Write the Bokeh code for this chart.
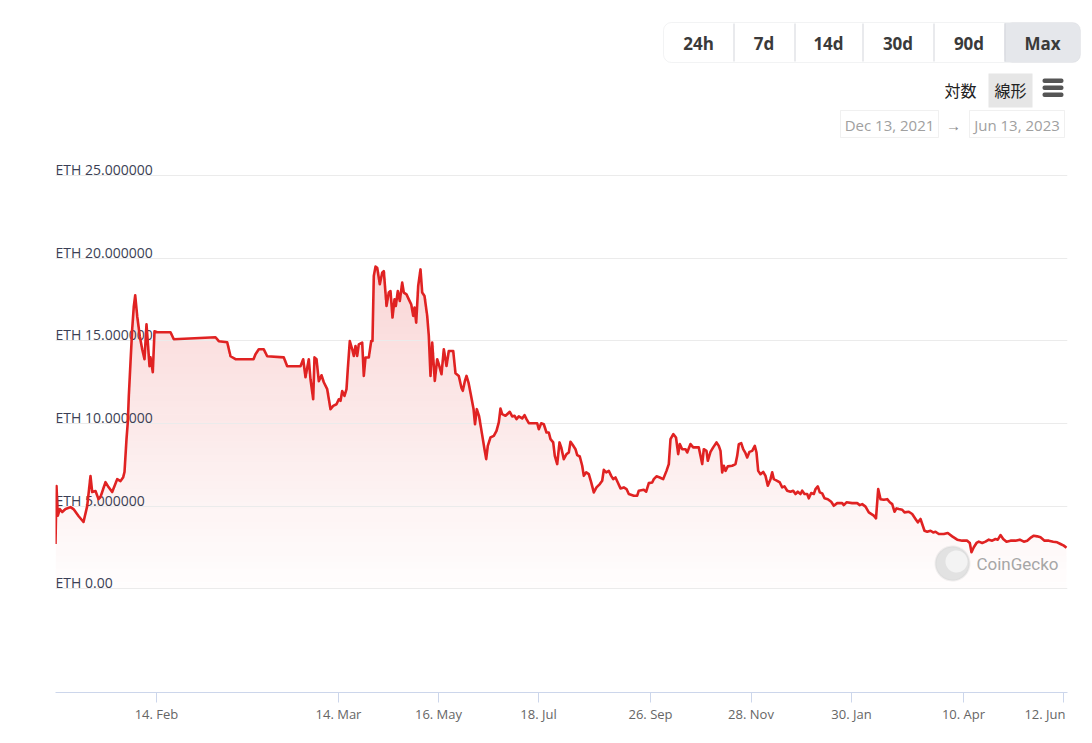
import numpy as np
from bokeh.plotting import figure
from bokeh.layouts import column
from bokeh.models import (Range1d, LinearAxis, FixedTicker, Grid, BoxAnnotation,
                          Label, PolyAnnotation)
from bokeh.core.properties import value
from bokeh.embed import file_html
from bokeh.resources import INLINE

# ordinal sample position along the (ordinal) time axis
idx = [0, 1, 2.3, 4.3, 6.7, 10, 15, 18, 23, 28, 31.7, 35, 36.7, 40, 43, 45, 50, 53, 56.7, 61.7,
       65, 67.7, 69, 71, 72.3, 73.3, 75, 76.7, 78.3, 79.7, 81.7, 84.3, 86.7, 89, 91, 92.3, 94, 95,
       97.3, 99, 101.7, 115, 118.3, 160, 163.3, 171.7, 175, 180, 198, 200, 203.3, 208.3, 211.7,
       228.3, 231.7, 245, 247.7, 250, 253.3, 255, 257.7, 259, 261, 263.3, 266, 268.3, 271.7, 275,
       277.7, 281, 283.3, 285, 286.7, 289, 291, 292.3, 294.3, 296.7, 298.3, 300, 301.7, 303.3,
       306.7, 308.3, 310, 313.3, 315.7, 317, 318.3, 320, 321.7, 324.3, 326.7, 328.3, 331, 333.3,
       335, 337, 339, 340.3, 342.3, 344.3, 346.7, 348.3, 351, 353.3, 355.7, 357.7, 359, 360.7,
       362.7, 365, 366.7, 369, 371.7, 373.3, 375, 376.7, 379.3, 381.7, 383.3, 386, 388.3, 391,
       393.3, 397.7, 400, 403.3, 406, 407.3, 409.5, 411, 413, 415.5, 418, 419.5, 421.3, 423.5,
       426.7, 429, 430.7, 432.3, 435, 438.3, 441, 443.3, 445, 446.7, 450, 454.3, 456.7, 459, 461,
       463.3, 466.7, 469, 471, 473.3, 481.7, 483.3, 485.7, 488.3, 491, 493.3, 495, 497.7, 499.3,
       501.7, 504, 505.7, 508.3, 511, 513.3, 515, 517.3, 520, 521.7, 524.3, 526.7, 528.3, 530.7,
       533.3, 535.7, 538.3, 541, 544.3, 546.7, 548.3, 550.7, 553.3, 555.7, 557.7, 560, 562.3, 565,
       568.3, 571, 573.3, 578.3, 581.7, 583.3, 588.3, 590.7, 593.3, 596.7, 598.3, 601, 604.3,
       607.7, 611, 613.3, 615, 617.8, 620.5, 622.7, 624.3, 626.7, 630, 631.7, 635, 637.7, 643.3,
       645, 646.7, 648.3, 651, 652.3, 655, 657.7, 661, 663.3, 665, 666.7, 668.3, 670, 672.3, 676.7,
       680, 681.7, 683.3, 685.7, 687.7, 690, 691.7, 694, 696.7, 699.3, 701, 702.7, 705, 707.7, 710,
       712.3, 715, 716.7, 718.3, 721.7, 724.3, 726.7, 729, 731.7, 735, 737.7, 740, 742.3, 745,
       746.7, 749, 751.7, 753.3, 755.7, 758.3, 760, 762.3, 764.3, 766.7, 769, 772.3, 775.7, 778.3,
       781.7, 786.7, 788.3, 791, 796.7, 801.7, 804.3, 806.7, 810, 813.3, 818.3, 820.5, 822.7, 825,
       828.3, 831.7, 834.3, 836.7, 839, 841, 843.3, 846.7, 849, 853.3, 856.7, 860, 862.3, 865,
       866.7, 869, 871.7, 875, 877.7, 880, 883.3, 888.3, 892.3, 896.7, 901.7, 906.7, 911.7, 914.3,
       916, 918.3, 921, 923.3, 926.7, 930, 933.3, 936.7, 940, 942.3, 945, 947.7, 951, 955, 960,
       964.3, 968.3, 971.7, 975.7, 978.3, 981.7, 985, 989, 993.3, 997.7, 1001.7, 1005, 1008.3, 1011]

# price in ETH
price = [2.72, 6.22, 4.43, 4.83, 4.65, 4.83, 4.95, 4.83, 4.41, 4.05, 5.01, 6.82, 5.86, 5.92, 5.43,
         5.56, 6.46, 6.16, 5.86, 6.64, 6.52, 6.76, 7.07, 9.06, 10.08, 11.65, 13.7, 15.7, 17.09,
         17.75, 16.49, 15.28, 14.49, 13.89, 16.0, 14.92, 13.47, 14.0, 13.1, 15.58, 15.52, 15.52,
         15.1, 15.22, 14.98, 14.92, 14.07, 13.89, 13.89, 14.19, 14.49, 14.49, 14.07, 14.0, 13.47,
         13.47, 13.89, 12.8, 13.89, 12.68, 11.47, 14.0, 13.89, 12.56, 12.92, 12.5, 12.08, 10.87,
         11.07, 11.17, 11.47, 11.37, 11.97, 11.67, 12.08, 13.29, 14.99, 14.49, 14.09, 14.69, 14.09,
         14.79, 14.9, 12.88, 13.99, 13.99, 14.99, 14.99, 18.92, 19.49, 19.42, 18.42, 19.12, 19.22,
         17.11, 17.92, 18.01, 16.41, 17.51, 17.11, 18.01, 17.41, 18.52, 17.92, 17.81, 17.51, 17.21,
         16.51, 17.01, 16.1, 18.32, 19.32, 17.92, 17.71, 16.51, 15.3, 12.88, 14.9, 12.58, 13.89,
         13.59, 12.98, 14.49, 13.48, 14.39, 14.39, 13.04, 12.88, 12.15, 11.98, 12.6, 12.88, 12.48,
         11.7, 10.9, 9.96, 10.87, 10.47, 9.3, 8.45, 7.85, 8.65, 9.16, 9.26, 9.56, 10.07, 10.91,
         10.57, 10.47, 10.71, 10.43, 10.47, 10.27, 10.43, 10.31, 10.51, 10.27, 10.02, 10.02, 9.66,
         10.02, 9.96, 9.46, 9.46, 9.06, 8.86, 8.05, 7.55, 8.86, 8.56, 7.85, 8.15, 8.25, 8.9, 8.7,
         8.45, 8.09, 8.01, 7.45, 6.84, 7.05, 6.94, 6.44, 5.84, 6.14, 6.34, 6.54, 7.2, 7.05, 7.14,
         6.84, 6.64, 6.74, 6.44, 6.08, 6.14, 6.04, 5.74, 5.64, 5.64, 5.94, 6.0, 5.88, 6.4, 6.44,
         6.64, 6.81, 6.74, 6.64, 7.14, 7.55, 9.06, 9.36, 9.16, 8.15, 8.76, 8.45, 8.45, 8.25, 8.76,
         8.56, 8.56, 8.05, 7.55, 8.45, 8.35, 7.75, 8.29, 8.56, 8.86, 8.65, 8.35, 7.05, 7.45, 7.14,
         7.41, 7.45, 7.55, 8.05, 8.76, 8.82, 8.45, 8.21, 7.95, 8.29, 8.35, 8.65, 8.25, 7.14, 6.94,
         7.08, 6.84, 6.24, 6.64, 7.05, 6.64, 6.54, 6.44, 6.14, 6.2, 5.94, 5.88, 5.94, 5.74, 5.88,
         5.74, 5.94, 5.74, 5.74, 5.48, 5.8, 5.74, 6.04, 6.2, 5.84, 5.78, 5.48, 5.43, 5.27, 5.03,
         5.19, 5.19, 5.07, 5.24, 5.19, 5.19, 5.07, 5.13, 4.98, 4.63, 4.43, 4.27, 6.04, 5.43, 5.39,
         5.43, 5.24, 5.13, 4.67, 4.87, 4.83, 4.79, 4.63, 4.67, 4.53, 4.23, 4.03, 4.23, 3.93, 3.52,
         3.46, 3.52, 3.42, 3.46, 3.32, 3.32, 3.38, 3.18, 2.98, 2.92, 2.92, 2.78, 2.22, 2.52, 2.78,
         2.86, 2.78, 2.86, 2.98, 2.92, 3.02, 2.98, 3.26, 3.02, 2.86, 2.92, 2.92, 2.98, 2.86, 2.92,
         3.12, 3.22, 3.18, 3.12, 2.92, 2.92, 2.86, 2.82, 2.72, 2.62, 2.49]

x_tick_pos = [101, 283, 383, 483, 595, 695.5, 796, 908, 1008]
x_tick_labels = ["14. Feb", "14. Mar", "16. May", "18. Jul", "26. Sep", "28. Nov", "30. Jan",
                 "10. Apr", "12. Jun"]
y_ticks = [0, 5, 10, 15, 20, 25]
y_tick_labels = ["ETH 0.00", "ETH 5.000000", "ETH 10.000000", "ETH 15.000000",
                 "ETH 20.000000", "ETH 25.000000"]
range_buttons = ["24h", "7d", "14d", "30d", "90d", "Max"]
scale_options = ["対数", "線形"]
date_from, date_to = "Dec 13, 2021", "Jun 13, 2023"

RED = "#e02222"
W, H = 1092, 743
TOP_H = 150

# ---------------- header (range selector etc.) ----------------
hdr = figure(width=W, height=TOP_H, output_backend="svg", toolbar_location=None,
             x_range=Range1d(0, W), y_range=Range1d(TOP_H, 0),
             x_axis_type=None, y_axis_type=None,
             min_border_left=0, min_border_right=0, min_border_top=0, min_border_bottom=0)
hdr.outline_line_color = None
hdr.grid.visible = False
hdr.frame_align = False


def box(fig, l, r, t, b, fill=None, line=None, radius=0, lw=1):
    fig.add_layout(BoxAnnotation(left=l, right=r, top=t, bottom=b,
                                 left_units="canvas", right_units="canvas",
                                 top_units="canvas", bottom_units="canvas",
                                 fill_color=fill, fill_alpha=1.0 if fill else 0.0,
                                 line_color=line, line_width=lw, border_radius=radius,
                                 level="overlay"))


def text(fig, x, y, s, size, color, font="Open Sans", style="normal", align="center"):
    fig.add_layout(Label(x=x, y=y, x_units="canvas", y_units="canvas", text=s,
                         text_font=font, text_font_size=f"{size}px", text_color=color,
                         text_align=align, text_baseline="middle", text_font_style=style,
                         level="overlay"))


edges_x = [663, 733, 794, 862, 933, 1004, 1080]
box(hdr, 1004, 1080, 22, 62, fill="#e5e7eb", radius=8)
box(hdr, 1004, 1020, 22.5, 61.5, fill="#e5e7eb")
for ex in edges_x[1:-1]:
    box(hdr, ex, ex + 1, 23, 61, fill="#d3d6db")
box(hdr, 663, 1080, 22, 62, line="#d3d6db", radius=8)
for i, lab in enumerate(range_buttons):
    text(hdr, (edges_x[i] + edges_x[i + 1]) / 2, 43, lab, 17, "#3a3a3a", style="bold")

box(hdr, 988, 1032, 73, 107, fill="#e6e6e6")
text(hdr, 960, 89, scale_options[0], 16, "#222222", font="Noto Sans CJK JP")
text(hdr, 1010, 89, scale_options[1], 16, "#222222", font="Noto Sans CJK JP")
for yy in (78, 85, 92):
    box(hdr, 1042, 1063, yy, yy + 4.5, fill="#555555", radius=2)

box(hdr, 840, 938, 110, 137, line="#cccccc")
box(hdr, 969, 1064, 110, 137, line="#cccccc")
text(hdr, 889, 124, date_from, 15, "#a0a0a0")
text(hdr, 953, 124, "→", 15, "#888888")
text(hdr, 1016.5, 124, date_to, 15, "#a0a0a0")

# ---------------- price chart ----------------
p = figure(width=W, height=H - TOP_H, output_backend="svg", toolbar_location=None,
           x_range=Range1d(0, 1012), y_range=Range1d(-6.26, 26.51),
           x_axis_type=None, y_axis_type=None,
           min_border_left=55, min_border_right=25, min_border_top=0, min_border_bottom=51)
p.outline_line_color = None
p.background_fill_color = "white"
p.border_fill_color = "white"
p.frame_align = False

vals = np.array(price, dtype=float)
top = vals.max()
nb = 48
edges = np.linspace(0, top, nb + 1)
for i in range(nb):
    lo, hi = edges[i], edges[i + 1]
    y2 = np.clip(vals, lo, hi)
    a = 0.005 + 0.18 * ((lo + hi) / 2) / top
    p.varea(x=idx, y1=lo, y2=y2, fill_color=RED, fill_alpha=a, level="image")

yticker = FixedTicker(ticks=y_ticks)
p.add_layout(Grid(dimension=1, ticker=yticker, grid_line_color="#ebebeb", level="underlay"))

p.text(x=[0] * len(y_ticks), y=y_ticks, text=y_tick_labels, text_font=value("Open Sans"),
       text_font_size="14px", text_color="#3b3f55", text_align="left",
       text_baseline="alphabetic", y_offset=-6)

xlabels = list(x_tick_labels)
xlabels[-1] = xlabels[-1] + "\u00a0" * 8   # keep last label inside the chart, as the original
xaxis = LinearAxis(ticker=FixedTicker(ticks=x_tick_pos),
                   major_label_overrides={t: s for t, s in zip(x_tick_pos, xlabels)},
                   axis_line_color="#ccd6eb", major_tick_line_color="#ccd6eb",
                   minor_tick_line_color=None, major_tick_in=0, major_tick_out=10,
                   major_label_standoff=2, major_label_text_font="Open Sans",
                   major_label_text_font_size="13px", major_label_text_color="#666666")
p.add_layout(xaxis, "below")

p.line(idx, price, line_color=RED, line_width=2.6, line_join="round")

# CoinGecko watermark (canvas units of the chart, y from its top)
th = np.linspace(0, 2 * np.pi, 60)
wy = 563 - TOP_H
p.add_layout(PolyAnnotation(xs=list(952 + 17 * np.cos(th)), ys=list(wy + 17 * np.sin(th)),
                            xs_units="canvas", ys_units="canvas", fill_color="#e2e2e2",
                            fill_alpha=1, line_color="#cfcfcf", line_width=2, level="overlay"))
p.add_layout(PolyAnnotation(xs=list(956 + 11 * np.cos(th)), ys=list(wy - 2 + 11 * np.sin(th)),
                            xs_units="canvas", ys_units="canvas", fill_color="#f3f3f3",
                            fill_alpha=1, line_color=None, level="overlay"))
text(p, 1017, wy, "CoinGecko", 17, "#a6a6a6", font="Roboto")

layout = column(hdr, p, spacing=0)
open("out.html", "w").write(file_html(layout, INLINE))
